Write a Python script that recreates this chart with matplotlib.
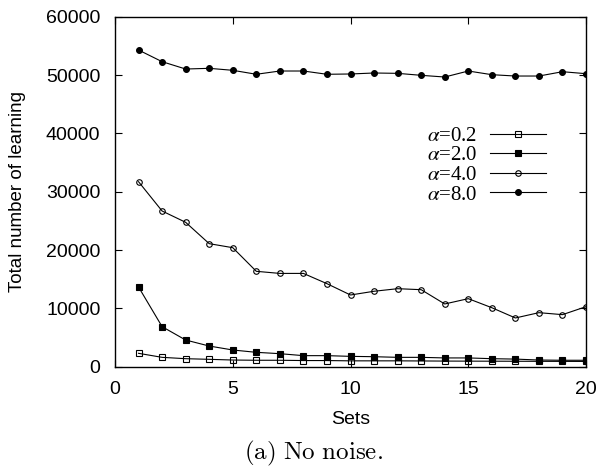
import matplotlib
matplotlib.use("Agg")
import matplotlib.pyplot as plt
from matplotlib.font_manager import FontProperties

sets = list(range(1, 21))
alpha_02 = [2290, 1600, 1370, 1260, 1140, 1100, 1100, 1050, 1050, 1000,
            1000, 1000, 980, 960, 950, 940, 930, 920, 910, 900]
alpha_20 = [13660, 6860, 4570, 3540, 2860, 2460, 2230, 1890, 1890, 1770,
            1710, 1600, 1600, 1500, 1500, 1370, 1300, 1140, 1100, 1100]
alpha_40 = [31710, 26690, 24750, 21090, 20400, 16350, 15990, 15990, 14230, 12290,
            12930, 13370, 13200, 10750, 11660, 10110, 8350, 9260, 8920, 10290]
alpha_80 = [54290, 52290, 51030, 51150, 50810, 50130, 50690, 50690, 50130, 50180,
            50350, 50290, 49950, 49660, 50690, 50060, 49830, 49830, 50570, 50230]

labels = [r"$\alpha$=0.2", r"$\alpha$=2.0", r"$\alpha$=4.0", r"$\alpha$=8.0"]
series = [alpha_02, alpha_20, alpha_40, alpha_80]
markers = [("s", "none", 4.0), ("s", "black", 4.6), ("o", "none", 4.0), ("o", "black", 4.2)]

xticks = [0, 5, 10, 15, 20]
yticks = [0, 10000, 20000, 30000, 40000, 50000, 60000]

fig = plt.figure(figsize=(5.98, 4.68), dpi=100)
ax = fig.add_axes([0.1923, 0.2165, 0.7877, 0.7478])

for vals, lab, (m, fc, ms) in zip(series, labels, markers):
    ax.plot(sets, vals, color="black", lw=0.8, marker=m, markersize=ms,
            markerfacecolor=fc, markeredgecolor="black", markeredgewidth=0.8,
            label=lab)

ax.set_xlim(0, 20)
ax.set_ylim(0, 60000)
ax.set_xticks(xticks)
ax.set_yticks(yticks)
tick_font = "Liberation Sans"
ax.set_xticklabels([str(t) for t in xticks], fontfamily=tick_font, fontsize=14)
ax.set_yticklabels([str(t) for t in yticks], fontfamily=tick_font, fontsize=14)
ax.tick_params(direction="in", top=True, right=True, length=5, width=0.8)
ax.tick_params(axis="x", pad=10)
ax.tick_params(axis="y", pad=10.5)
for sp in ax.spines.values():
    sp.set_linewidth(1.0)

ax.set_xlabel("Sets", fontfamily=tick_font, fontsize=14, labelpad=10)
ax.set_ylabel("Total number of learning", fontfamily=tick_font, fontsize=13.5,
              labelpad=14)

leg_font = FontProperties(family="Liberation Serif", size=15, math_fontfamily="stix")
ax.legend(loc="center left", bbox_to_anchor=(0.662, 0.575), prop=leg_font,
          markerfirst=False, frameon=False, handlelength=2.7, handletextpad=0.6,
          labelspacing=0.0, borderaxespad=0, borderpad=0)

fig.text(0.525, 0.032, r"$\mathrm{(a)\ No\ noise.}$", ha="center", va="center",
         fontsize=18, math_fontfamily="cm")

fig.savefig("out.png", dpi=100)
